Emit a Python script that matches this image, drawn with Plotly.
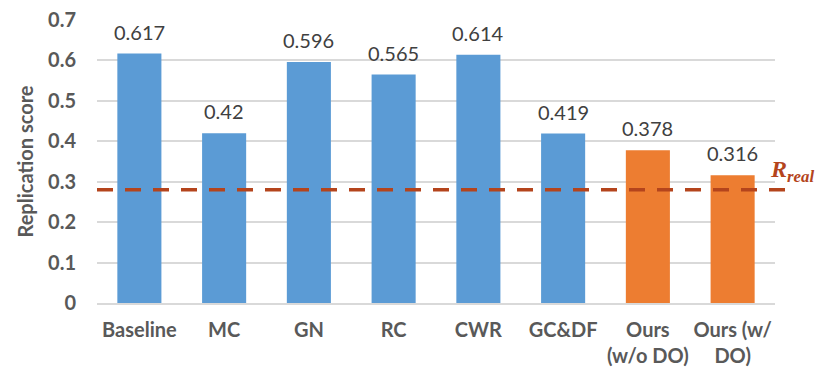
import plotly.graph_objects as go

methods = ["Baseline", "MC", "GN", "RC", "CWR", "GC&DF", "Ours<br>(w/o DO)", "Ours (w/<br>DO)"]
scores = [0.617, 0.42, 0.596, 0.565, 0.614, 0.419, 0.378, 0.316]
labels = ["0.617", "0.42", "0.596", "0.565", "0.614", "0.419", "0.378", "0.316"]
is_ours = [False, False, False, False, False, False, True, True]
r_real = 0.28

blue = "#5B9BD5"
orange = "#ED7D31"
red = "#B4441C"
font = "Lato"

fig = go.Figure()
fig.add_trace(go.Bar(
    x=methods, y=scores,
    marker=dict(color=[orange if o else blue for o in is_ours], line=dict(width=0)),
))

# value labels sit a bit higher than plotly's "outside" text would
for m, s, t in zip(methods, scores, labels):
    fig.add_annotation(x=m, y=s, text=t, showarrow=False, yanchor="bottom", yshift=8,
                       font=dict(family=font, size=20, color="#404040"))

fig.add_shape(type="line", xref="paper", yref="y", x0=0, x1=1.02, y0=r_real, y1=r_real,
              line=dict(color=red, width=3.5, dash="16px,12px"))
fig.add_annotation(xref="paper", yref="y", x=0.995, y=r_real, xanchor="left", yanchor="bottom",
                   text="<b><i>R<sub>real</sub></i></b>", showarrow=False, yshift=2, xshift=-4,
                   font=dict(family="Liberation Serif", size=24, color=red))

fig.update_layout(
    width=830, height=378,
    margin=dict(l=97, r=55, t=20, b=75),
    plot_bgcolor="white", paper_bgcolor="white",
    bargap=0.48, showlegend=False,
    font=dict(family=font, color="#595959"),
    xaxis=dict(tickfont=dict(size=20, color="#595959", weight="bold"), showline=True,
               linecolor="#D9D9D9", linewidth=1.5, ticks="", automargin=False,
               ticklabelstandoff=8),
    yaxis=dict(range=[0, 0.7], dtick=0.1, tickformat="~g", showgrid=True, gridcolor="#D9D9D9",
               gridwidth=1.5, zeroline=False, ticks="", ticklabelstandoff=20, automargin=False,
               tickfont=dict(size=20, color="#595959", weight="bold"),
               title=dict(text="Replication score", font=dict(size=20, color="#595959", weight="bold"),
                          standoff=9)),
)

fig.write_html("out.html", config={"displayModeBar": False},
               post_script="document.body.style.margin='0';")
